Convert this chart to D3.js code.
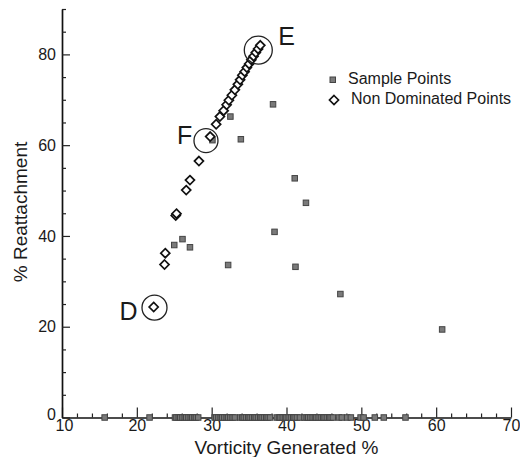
<!DOCTYPE html>
<html><head><meta charset="utf-8">
<script src="https://cdn.jsdelivr.net/npm/d3@7"></script>
<style>body{margin:0;background:#fff}svg{display:block}text{font-family:"Liberation Sans",Arial,sans-serif;fill:#1a1a1a}</style>
</head><body><svg id="c" width="520" height="457"></svg>
<script>
// Sample points (x = vorticity generated %, y = % reattachment)
const sampleX = [38.2,32.5,33.9,30.1,41.1,42.6,38.4,41.2,47.2,60.8,25.0,26.1,27.1,32.2,
  15.7,21.7,
  25.1,25.3,25.6,25.8,26.1,26.4,26.6,26.9,27.2,27.4,27.7,27.9,28.2,
  30.4,30.6,30.9,31.2,31.4,31.7,32.0,32.2,32.5,32.8,33.1,
  33.8,34.1,34.3,34.6,34.9,35.1,35.4,35.7,35.9,36.2,36.5,36.7,37.0,37.3,37.5,37.8,
  38.7,39.0,39.2,39.5,39.8,40.0,40.3,40.6,40.9,41.1,41.4,41.8,
  42.4,42.7,42.9,43.2,43.5,43.8,44.0,44.3,44.6,44.9,45.1,45.4,45.7,45.9,46.2,
  47.0,47.4,48.1,48.6,49.9,50.3,51.8,53.0,55.9];
const sampleY = [69.0,66.3,61.3,61.1,52.7,47.3,40.9,33.2,27.2,19.4,38.0,39.3,37.5,33.6,
  0,0,
  0,0,0,0,0,0,0,0,0,0,0,0,0,
  0,0,0,0,0,0,0,0,0,0,0,
  0,0,0,0,0,0,0,0,0,0,0,0,0,0,0,0,
  0,0,0,0,0,0,0,0,0,0,0,0,
  0,0,0,0,0,0,0,0,0,0,0,0,0,0,0,
  0,0,0,0,0,0,0,0,0];
// Non dominated points
const ndX = [22.25,23.7,23.8,25.2,25.3,26.6,27.1,28.3,29.8,30.6,31.1,31.6,32.0,32.3,32.7,33.1,33.5,33.8,34.1,34.4,34.7,35.0,35.3,35.6,35.9,36.2,36.5];
const ndY = [24.35,33.7,36.2,44.5,44.9,50.1,52.3,56.5,61.9,64.6,66.3,67.6,68.9,69.9,71.0,72.2,73.4,74.4,75.4,76.2,77.1,77.9,78.8,79.6,80.4,81.2,82.0];
// Circled designs
const markNames = ["D","E","F"];
const markX = [22.36,36.23,29.24];
const markY = [24.2,80.96,61.0];
const markR = [12.5,14,12];
const markDx = [-35,20,-29];
const markDy = [12,-5,3];
// Axis ticks
const xTicks = [10,20,30,40,50,60,70];
const xMinor = [12,14,16,18,22,24,26,28,32,34,36,38,42,44,46,48,52,54,56,58,62,64,66,68];
const yTicks = [0,20,40,60,80];
const yMinor = [5,10,15,25,30,35,45,50,55,65,70,75,85,90];
const xTitle = "Vorticity Generated %";
const yTitle = "% Reattachment";
const legendLabels = ["Sample Points","Non Dominated Points"];

const svg = d3.select("#c");
const x = d3.scaleLinear().domain([10,70]).range([62,511]);
const y = d3.scaleLinear().domain([0,90]).range([417.5,9]);

// axes
const gx = svg.append("g").attr("transform",`translate(0,${y(0)})`)
  .call(d3.axisBottom(x).tickValues(xTicks).tickFormat(d3.format("d")).tickSizeInner(-10).tickSizeOuter(0).tickPadding(2));
const gxm = svg.append("g").attr("transform",`translate(0,${y(0)})`)
  .call(d3.axisBottom(x).tickValues(xMinor).tickFormat("").tickSizeInner(-4).tickSizeOuter(0));
gxm.select(".domain").remove();
const gy = svg.append("g").attr("transform",`translate(${x(10)},0)`)
  .call(d3.axisLeft(y).tickValues(yTicks).tickFormat(d3.format("d")).tickSizeInner(-8).tickSizeOuter(0).tickPadding(6));
const gym = svg.append("g").attr("transform",`translate(${x(10)},0)`)
  .call(d3.axisLeft(y).tickValues(yMinor).tickFormat("").tickSizeInner(-4).tickSizeOuter(0));
gym.select(".domain").remove();
svg.selectAll(".domain").attr("stroke","#111").attr("stroke-width",1.7);
svg.selectAll(".tick line").attr("stroke","#222").attr("stroke-width",1.2);
svg.selectAll(".tick text").attr("font-size",16).attr("fill","#1a1a1a").attr("font-family","Liberation Sans, Arial, sans-serif");
gx.selectAll(".tick text").filter(d=>d===10).attr("dx",2);
gy.selectAll(".tick text").filter(d=>d===0).attr("dy","0.1em");

// titles
svg.append("text").attr("x",(x(10)+x(70))/2). attr("y",454).attr("text-anchor","middle").attr("font-size",19).text(xTitle);
svg.append("text").attr("transform","translate(27,212) rotate(-90)").attr("text-anchor","middle").attr("font-size",19).text(yTitle);

// sample points
const sq = 5.5;
svg.append("g").selectAll("rect").data(sampleX.map((v,i)=>[v,sampleY[i]])).join("rect")
  .attr("x",d=>x(d[0])-sq/2).attr("y",d=>y(d[1])-sq/2).attr("width",sq).attr("height",sq)
  .attr("fill","#7a7a7a").attr("stroke","#444").attr("stroke-width",1);

// non dominated points
const dia = d3.symbol().type(d3.symbolDiamond2).size(52);
svg.append("g").selectAll("path").data(ndX.map((v,i)=>[v,ndY[i]])).join("path")
  .attr("d",dia).attr("transform",d=>`translate(${x(d[0])},${y(d[1])})`)
  .attr("fill","#fff").attr("stroke","#111").attr("stroke-width",1.7);

// annotations
const ann = svg.append("g");
markNames.forEach((n,i)=>{
  ann.append("circle").attr("cx",x(markX[i])).attr("cy",y(markY[i])).attr("r",markR[i])
    .attr("fill","none").attr("stroke","#222").attr("stroke-width",1.3);
  ann.append("text").attr("x",x(markX[i])+markDx[i]).attr("y",y(markY[i])+markDy[i]).attr("font-size",25).text(n);
});

// legend
const lg = svg.append("g");
lg.append("rect").attr("x",330).attr("y",77).attr("width",sq).attr("height",sq).attr("fill","#7a7a7a").attr("stroke","#444");
lg.append("path").attr("d",dia).attr("transform","translate(334,100)").attr("fill","#fff").attr("stroke","#111").attr("stroke-width",1.7);
lg.append("text").attr("x",348).attr("y",83.5).attr("font-size",16).text(legendLabels[0]);
lg.append("text").attr("x",351).attr("y",103.5).attr("font-size",16).text(legendLabels[1]);
</script></body></html>
